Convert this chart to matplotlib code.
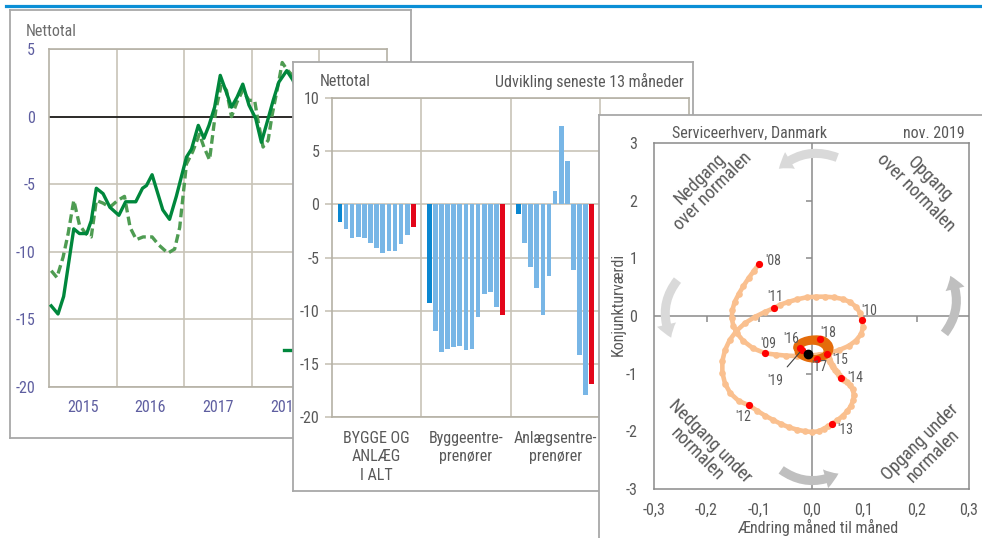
import matplotlib
matplotlib.use('Agg')
import matplotlib.pyplot as plt
from matplotlib import font_manager as fm
from matplotlib.patches import FancyArrowPatch
from matplotlib.lines import Line2D
import numpy as np

# ---------- font choice: a narrow sans (the reference uses an Arial-Narrow-like face) ----------
_names = {f.name for f in fm.fontManager.ttflist}
FAMILY = 'Liberation Sans'
SCALE = 0.9
for cand, sc in [('Liberation Sans Narrow', 1.0), ('Arial Narrow', 1.0),
                 ('Roboto Condensed', 1.045), ('Archivo Narrow', 1.12)]:
    if cand in _names:
        FAMILY, SCALE = cand, sc
        break

plt.rcParams['font.family'] = [FAMILY, 'DejaVu Sans']
plt.rcParams['axes.unicode_minus'] = False

# ---------------- data: panel 1 (monthly net balance, months since Jan 2015) ----------------
p1_sol_month = [0.4, 1.6, 2.6, 4.4, 5.4, 6.7, 7.5, 8.4, 9.6, 10.8, 12.4, 13.6, 15.4, 16.6, 17.3, 18.3,
                20.2, 21.4, 22.6, 24.4, 25.3, 26.5, 27.5, 28.4, 29.4, 30.4, 31.4, 32.4, 33.4, 34.4,
                35.5, 36.7, 37.7, 38.9, 39.8, 40.8, 42.2, 43.3, 44.5]
p1_sol_val = [-14.0, -14.6, -13.3, -8.3, -8.65, -8.65, -7.7, -5.3, -5.7, -6.7, -7.3, -6.3, -6.3, -5.3,
              -5.1, -4.3, -6.9, -7.6, -5.9, -3.0, -2.4, -0.65, -1.6, -0.65, 0.7, 3.05, 1.9, 0.7, 1.45,
              2.4, 0.85, -0.15, -1.9, -0.15, 1.2, 2.55, 3.4, 2.7, 1.5]
p1_das_month = [0.4, 1.4, 2.5, 3.4, 4.4, 5.4, 6.5, 7.5, 8.4, 9.6, 10.8, 12.2, 13.4, 14.4, 15.5, 16.7,
                18.3, 19.5, 21.1, 22.3, 23.2, 24.4, 25.5, 26.7, 27.5, 28.5, 29.6, 30.6, 31.5, 32.4,
                33.4, 34.4, 35.5, 36.5, 37.1, 38.0, 38.9, 39.6, 40.7, 41.4, 42.2, 43.2, 44.5]
p1_das_val = [-11.4, -11.9, -10.4, -8.65, -6.2, -8.0, -8.65, -8.9, -6.2, -6.4, -6.7, -6.2, -5.9, -8.2,
              -9.1, -8.9, -8.9, -9.5, -10.1, -9.8, -8.2, -3.5, -2.6, -1.3, -2.25, -3.2, 0.45, 2.4,
              1.95, 0.0, 1.1, 1.95, 1.2, 1.2, -0.3, -2.25, -1.75, 0.1, 2.4, 4.0, 3.5, 3.05, 2.5]
p1_years = ['2015', '2016', '2017', '2018', '2019']
p1_year_centers = [6, 18, 30, 42, 54]
p1_year_bounds = [12, 24, 36, 48]
p1_yticks = [5, 0, -5, -10, -15, -20]
p1_legend = ['Faktisk', 'Forventet']

# ---------------- data: panel 2 (last 13 months, net balance) ----------------
p2_groups = ['BYGGE OG\nANLÆG\nI ALT', 'Byggeentre-\nprenører', 'Anlægsentre-\nprenører']
p2_total = [-1.7, -2.3, -3.2, -3.1, -3.2, -3.6, -4.1, -4.6, -4.4, -4.4, -3.7, -2.9, -2.1]
p2_bygge = [-9.3, -11.9, -13.9, -13.6, -13.4, -13.3, -13.7, -13.6, -10.6, -8.4, -8.2, -9.7, -10.4]
p2_anlaeg = [-0.9, -3.6, -5.9, -7.9, -10.4, -6.7, 1.3, 7.4, 4.1, -6.2, -14.2, -17.9, -16.9]
p2_yticks = [10, 5, 0, -5, -10, -15, -20]

# ---------------- data: panel 3 (business-cycle clock, monthly Jan 2008 - Nov 2019) ----------------
clock_x = [
    -0.0998, -0.1094, -0.1196, -0.1297, -0.1386, -0.1463, -0.1507, -0.1520, -0.1488, -0.1418, -0.1304, -0.1113,
    -0.0878, -0.0681, -0.0477, -0.0274, -0.0064, 0.0140, 0.0337, 0.0528, 0.0706, 0.0846, 0.0947, 0.0985,
    0.0954, 0.0922, 0.0846, 0.0731, 0.0592, 0.0426, 0.0254, 0.0083, -0.0095, -0.0274, -0.0445, -0.0592,
    -0.0712, -0.0890, -0.1081, -0.1272, -0.1431, -0.1558, -0.1647, -0.1698, -0.1698, -0.1647, -0.1545, -0.1386,
    -0.1189, -0.1036, -0.0884, -0.0731, -0.0579, -0.0426, -0.0274, -0.0121, 0.0019, 0.0134, 0.0235, 0.0312,
    0.0381, 0.0490, 0.0592, 0.0681, 0.0750, 0.0795, 0.0808, 0.0782, 0.0731, 0.0674, 0.0623, 0.0592,
    0.0559, 0.0521, 0.0483, 0.0445, 0.0413, 0.0381, 0.0356, 0.0337, 0.0324, 0.0312, 0.0305, 0.0299,
    0.030, 0.030, 0.030, 0.027, 0.022, 0.016, 0.009, 0.001, -0.007, -0.014, -0.019, -0.022,
    -0.022, -0.025, -0.025, -0.022, -0.017, -0.012, -0.007, -0.002, 0.002, 0.005, 0.008, 0.010,
    0.011, 0.018, 0.025, 0.031, 0.034, 0.035, 0.033, 0.029, 0.025, 0.021, 0.019, 0.017,
    0.016, 0.010, 0.003, -0.004, -0.011, -0.018, -0.023, -0.027, -0.028, -0.026, -0.023, -0.021,
    -0.019, -0.018, -0.017, -0.015, -0.013, -0.011, -0.010, -0.009, -0.008, -0.008, -0.0076]
clock_y = [
    0.902, 0.786, 0.659, 0.520, 0.381, 0.243, 0.104, -0.035, -0.173, -0.301, -0.428, -0.561,
    -0.647, -0.670, -0.688, -0.694, -0.688, -0.670, -0.642, -0.590, -0.520, -0.428, -0.312, -0.185,
    -0.064, 0.058, 0.162, 0.243, 0.295, 0.324, 0.335, 0.335, 0.324, 0.289, 0.243, 0.197,
    0.139, 0.069, -0.017, -0.127, -0.260, -0.416, -0.590, -0.780, -0.983, -1.173, -1.341, -1.474,
    -1.549, -1.642, -1.728, -1.803, -1.873, -1.931, -1.971, -2.000, -2.012, -2.000, -1.954, -1.913,
    -1.873, -1.809, -1.734, -1.653, -1.561, -1.462, -1.364, -1.272, -1.202, -1.150, -1.116, -1.092,
    -1.069, -1.023, -0.977, -0.931, -0.884, -0.844, -0.803, -0.769, -0.740, -0.711, -0.688, -0.670,
    -0.653, -0.615, -0.570, -0.525, -0.485, -0.455, -0.438, -0.432, -0.440, -0.458, -0.485, -0.515,
    -0.548, -0.590, -0.630, -0.665, -0.695, -0.715, -0.730, -0.738, -0.742, -0.743, -0.742, -0.741,
    -0.739, -0.722, -0.695, -0.655, -0.605, -0.550, -0.500, -0.458, -0.430, -0.415, -0.408, -0.405,
    -0.404, -0.400, -0.402, -0.410, -0.425, -0.450, -0.480, -0.515, -0.550, -0.575, -0.588, -0.592,
    -0.595, -0.610, -0.625, -0.640, -0.650, -0.658, -0.662, -0.664, -0.665, -0.665, -0.664]
clock_year_labels = ["'08", "'09", "'10", "'11", "'12", "'13", "'14", "'15", "'16", "'17", "'18", "'19"]
p3_xticks = [-0.3, -0.2, -0.1, 0.0, 0.1, 0.2, 0.3]
p3_xticklabels = ['-0,3', '-0,2', '-0,1', '0,0', '0,1', '0,2', '0,3']
p3_yticks = [3, 2, 1, 0, -1, -2, -3]

# ---------------- layout helpers ----------------
W, H = 982, 538
fig = plt.figure(figsize=(W / 100, H / 100), dpi=100)
fig.patch.set_facecolor('white')


def rect(x0, y0, x1, y1):
    return [x0 / W, 1 - y1 / H, (x1 - x0) / W, (y1 - y0) / H]


def fpos(x, y):
    return x / W, 1 - y / H


def frame(x0, y0, x1, y1, z):
    a = fig.add_axes(rect(x0, y0, x1, y1), zorder=z)
    a.set_xticks([])
    a.set_yticks([])
    a.set_facecolor('white')
    for s in a.spines.values():
        s.set_color('#a8a8a8')
        s.set_linewidth(1.3)
    return a


GRID = '#c8c4b8'
TXT = '#595959'
FS = 11 * SCALE

# blue rule at top
fig.add_artist(Line2D([6 / W, 1.0], [1 - 5.5 / H] * 2, color='#0b8fd6', lw=2.3))

# ================= panel 1 =================
f1 = frame(10, 10, 411, 438, 1)
ax1 = fig.add_axes(rect(49, 49, 387, 387), zorder=2)
ax1.set_facecolor('none')
ax1.set_xlim(0, 60)
ax1.set_ylim(-20, 5)
ax1.axhline(0, color='black', lw=1.1, zorder=2)
l_sol, = ax1.plot(p1_sol_month, p1_sol_val, color='#00873c', lw=2.4, zorder=4)
l_das, = ax1.plot(p1_das_month, p1_das_val, color='#4e9c52', lw=2.4, ls=(0, (2.6, 1.3)), zorder=3)
ax1.set_yticks(p1_yticks)
ax1.set_yticklabels([str(v) for v in p1_yticks])
ax1.set_xticks(p1_year_centers)
ax1.set_xticklabels(p1_years)
ax1.set_xticks(p1_year_bounds, minor=True)
ax1.tick_params(axis='both', which='both', length=0, labelsize=FS, colors='#5e5ea0')
ax1.tick_params(axis='y', pad=10)
ax1.tick_params(axis='x', pad=9)
ax1.grid(axis='y', which='major', color=GRID, lw=1.2)
ax1.grid(axis='x', which='minor', color=GRID, lw=1.2)
ax1.set_axisbelow(True)
for s in ax1.spines.values():
    s.set_color('#b5b1a5')
    s.set_linewidth(1.2)
ax1.legend([l_sol, l_das], p1_legend, loc='center left',
           bbox_to_anchor=((284 - 49) / 338, (387 - 351) / 338), frameon=False,
           borderpad=0, borderaxespad=0, handlelength=2.2, ncol=2, fontsize=FS,
           labelcolor=TXT)
f1.text(*fpos(26, 32), 'Nettotal', transform=fig.transFigure, fontsize=FS, color='#6d6d6d',
        ha='left', va='center')

# ================= panel 2 =================
f2 = frame(293, 62, 693, 491, 3)
ax2 = fig.add_axes(rect(332, 98, 689, 417), zorder=4)
ax2.set_facecolor('none')
ax2.set_xlim(-0.5, 3.5)
ax2.set_ylim(-20, 10)
pitch = 0.0685
for g, vals in enumerate([p2_total, p2_bygge, p2_anlaeg]):
    n = len(vals)
    xs = g + (np.arange(n) - (n - 1) / 2) * pitch
    cols = ['#0b87d0'] + ['#78b6e6'] * (n - 2) + ['#e3061a']
    ax2.bar(xs, vals, width=0.052, color=cols, zorder=3)
ax2.set_yticks(p2_yticks)
ax2.set_yticklabels([str(v) for v in p2_yticks])
ax2.set_xticks([0, 1, 2])
ax2.set_xticklabels(p2_groups, linespacing=1.3)
ax2.set_xticks([0.5, 1.5, 2.5], minor=True)
ax2.tick_params(axis='y', length=5, width=1.2, color=GRID, labelsize=FS, labelcolor=TXT, pad=4)
ax2.tick_params(axis='x', which='both', length=0, labelsize=FS, labelcolor=TXT, pad=10)
ax2.grid(axis='y', which='major', color=GRID, lw=1.2)
ax2.grid(axis='x', which='minor', color=GRID, lw=1.2)
ax2.set_axisbelow(True)
for s in ax2.spines.values():
    s.set_color('#b5b1a5')
    s.set_linewidth(1.2)
f2.text(*fpos(320, 81), 'Nettotal', transform=fig.transFigure, fontsize=FS, color=TXT,
        ha='left', va='center')
f2.text(*fpos(684, 81), 'Udvikling seneste 13 måneder', transform=fig.transFigure, fontsize=FS,
        color=TXT, ha='right', va='center')

# ================= panel 3 =================
f3 = frame(599, 115, 1200, 700, 5)
ax3 = fig.add_axes(rect(654, 143, 969, 489), zorder=6)
ax3.set_facecolor('none')
ax3.set_xlim(-0.3, 0.3)
ax3.set_ylim(-3, 3)
AX3 = '#8a8a8a'
ax3.axhline(0, color=AX3, lw=1.1, zorder=1)
ax3.axvline(0, color=AX3, lw=1.1, zorder=1)
inner_x = [v for v in p3_xticks if 0.05 < abs(v) < 0.25]
inner_y = [v for v in p3_yticks if v != 0 and abs(v) < 3]
ax3.plot(inner_x, [0] * len(inner_x), ls='none', marker=3, ms=4, mew=1.1, color=AX3, zorder=1)
ax3.plot([0] * len(inner_y), inner_y, ls='none', marker=0, ms=4, mew=1.1, color=AX3, zorder=1)
for s in ax3.spines.values():
    s.set_color(AX3)
    s.set_linewidth(1.1)
ax3.set_xticks(p3_xticks)
ax3.set_xticklabels(p3_xticklabels)
ax3.set_yticks(p3_yticks)
ax3.set_yticklabels([str(v) for v in p3_yticks])
ax3.tick_params(axis='both', length=0, labelsize=FS, labelcolor=TXT)
ax3.tick_params(axis='y', pad=12)
ax3.tick_params(axis='x', pad=10)
ax3.set_ylabel('Konjunkturværdi', fontsize=FS, color=TXT, va='center')
ax3.yaxis.set_label_coords(-0.114, 0.532)
ax3.set_xlabel('Ændring måned til måned', fontsize=FS, color=TXT, va='center')
ax3.xaxis.set_label_coords(0.52, -0.11)

# curved arrows
arrow_specs = [((0.054, 2.73), (-0.066, 2.52), '#d9d9d9'),
               ((-0.252, 0.66), (-0.265, -0.42), '#d9d9d9'),
               ((-0.062, -2.64), (0.056, -2.71), '#bfbfbf'),
               ((0.250, -0.34), (0.262, 0.74), '#bfbfbf')]
for pa, pb, col in arrow_specs:
    ax3.add_patch(FancyArrowPatch(pa, pb, connectionstyle='arc3,rad=0.33',
                                  arrowstyle='simple,head_length=10,head_width=14,tail_width=6.5',
                                  color=col, lw=0, zorder=2))

# quadrant captions
QFS = 12.6 * SCALE
quad = [(-0.200, 2.27, 'Nedgang\nover normalen', 45),
        (0.212, 2.25, 'Opgang\nover normalen', -45),
        (-0.205, -2.28, 'Nedgang under\nnormalen', -45),
        (0.220, -2.31, 'Opgang under\nnormalen', 45)]
for qx, qy, s, rot in quad:
    ax3.text(qx, qy, s, rotation=rot, ha='center', va='center', fontsize=QFS, color=TXT,
             linespacing=1.05, rotation_mode='anchor', multialignment='center')

# spiral
n_light = 85
ax3.plot(clock_x[:n_light], clock_y[:n_light], color='#fac08f', lw=3.3, marker='o', ms=4.8,
         mec='none', zorder=3)
ax3.plot(clock_x[n_light - 1:], clock_y[n_light - 1:], color='#e46c0a', lw=5.4,
         solid_joinstyle='round', solid_capstyle='round', zorder=4)
ax3.plot(clock_x[::12], clock_y[::12], ls='none', marker='o', ms=5.2, color='#ff0000', mec='none',
         zorder=5)
ax3.plot(clock_x[-1:], clock_y[-1:], ls='none', marker='o', ms=6, color='black', zorder=6)

label_offsets = [(10, 2), (2, 7), (5.5, 6.5), (1, 8), (-4.3, -8.3), (9.6, -4.5), (10.3, -0.4),
                 (9, -4.5), (-6, 6.5), (1.5, -6), (6, 4.6), (-19, -22)]
for k, (lab, off) in enumerate(zip(clock_year_labels, label_offsets)):
    i = 12 * k
    kw = {}
    if lab == "'19":
        kw['arrowprops'] = dict(arrowstyle='-', color='#404040', lw=0.8, shrinkA=4, shrinkB=2)
    ax3.annotate(lab, (clock_x[i], clock_y[i]), xytext=off, textcoords='offset points',
                 ha='center', va='center', fontsize=9.5 * SCALE, color=TXT, zorder=7, **kw)

f3.text(*fpos(749, 133), 'Serviceerhverv, Danmark', transform=fig.transFigure, fontsize=FS,
        color=TXT, ha='center', va='center')
f3.text(*fpos(965, 133), 'nov. 2019', transform=fig.transFigure, fontsize=FS, color=TXT,
        ha='right', va='center')

fig.savefig('out.png', dpi=100, facecolor='white')
